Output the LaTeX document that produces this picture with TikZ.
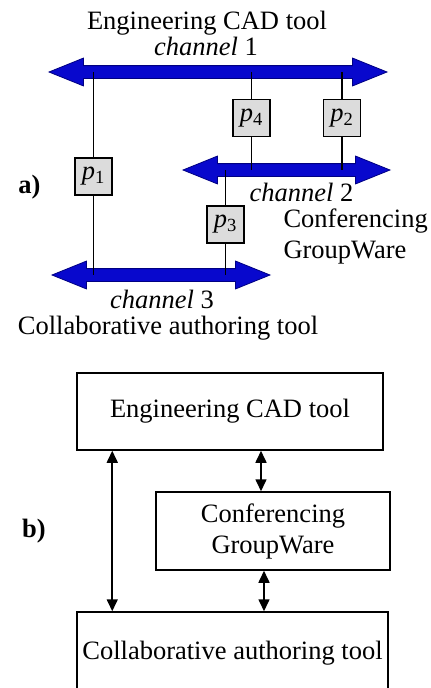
\documentclass[tikz,border=0pt]{standalone}
\usepackage{fontspec}
\setmainfont{Liberation Serif}
\usepackage{tikz}
\usetikzlibrary{positioning,arrows.meta,calc,shapes.arrows}
\usepackage{xcolor}

\definecolor{chanblue}{RGB}{8,8,205}
\definecolor{chanedge}{RGB}{0,0,130}
\definecolor{procgray}{RGB}{220,220,220}
\newcommand{\pname}[1]{\textit{p}\textsubscript{#1}}

\begin{document}
\begin{tikzpicture}[x=1pt,y=-1pt,
  every node/.style={font=\fontsize{26.5}{31}\selectfont},
  chan/.style={double arrow,fill=chanblue,draw=chanedge,line width=0.8,
    inner xsep=0,inner ysep=6,minimum width=27,
    double arrow head extend=7.5,double arrow tip angle=44},
  proc/.style={draw,line width=1.3,fill=procgray,minimum size=37,inner sep=0},
  tool/.style={draw,line width=1.5,align=center,inner sep=0},
  biarrow/.style={{Triangle[length=12pt,width=11pt]}-{Triangle[length=12pt,width=11pt]},line width=1.6}]
\clip (0,0) rectangle (431,688);
% a) channels
\node[chan,minimum height=338] (ch1) at (218,72) {};
\node[chan,minimum height=207] (ch2) at (286.5,170) {};
\node[chan,minimum height=218] (ch3) at (161,275) {};
\node[proc] (p1) at (93.5,176.5) {\pname{1}};
\node[proc] (p4) at (251.5,118) {\pname{4}};
\node[proc] (p2) at (342,118) {\pname{2}};
\node[proc] (p3) at (225.5,224.5) {\pname{3}};
\draw[line width=1.3] (p1 |- ch1.center) -- (p1) -- (p1 |- ch3.center);
\draw[line width=1.3] (p4 |- ch1.center) -- (p4) -- (p4 |- ch2.center);
\draw[line width=1.3] (p2 |- ch1.center) -- (p2) -- (p2 |- ch2.center);
\draw[line width=1.3] (p3 |- ch2.center) -- (p3) -- (p3 |- ch3.center);
\node[anchor=base] (cad) at (207,29) {Engineering CAD tool};
\node[anchor=base] (lab1) at (206,55) {\textit{channel} 1};
\node[anchor=base] (lab2) at (301.5,201) {\textit{channel} 2};
\node[anchor=base west,align=left] (conf) at (280,258) {Conferencing\\GroupWare};
\node[anchor=base] (lab3) at (162,308) {\textit{channel} 3};
\node[anchor=base] (coll) at (168,334) {Collaborative authoring tool};
\node[anchor=base] (parta) at (29.5,193) {\textbf{a)}};
% b) tools
\node[tool,minimum width=306,minimum height=77] (cadbox) at (230,411.5) {Engineering CAD tool};
\node[tool,minimum width=234,minimum height=78] (confbox) at (273,531) {Conferencing\\GroupWare};
\node[tool,minimum width=311,minimum height=82] (collbox) at (232.5,653) {Collaborative authoring tool};
\node[anchor=base] (partb) at (34,537) {\textbf{b)}};
\draw[biarrow] ([xshift=36]cadbox.south west) -- ([xshift=36]collbox.north west);
\draw[biarrow] ([xshift=-12]confbox.north) -- ([xshift=-12]confbox.north |- cadbox.south);
\draw[biarrow] ([xshift=-9]confbox.south) -- ([xshift=-9]confbox.south |- collbox.north);
\end{tikzpicture}
\end{document}
